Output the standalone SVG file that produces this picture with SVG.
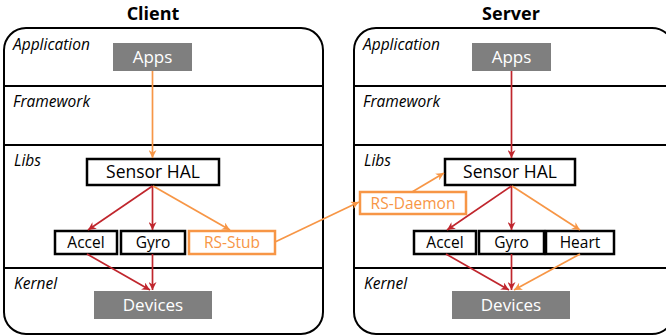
<svg xmlns="http://www.w3.org/2000/svg" width="666" height="335" viewBox="0 0 666 335">
<defs>
<marker id="ar" viewBox="0 0 10 10" refX="10" refY="5" markerWidth="8" markerHeight="8" markerUnits="userSpaceOnUse" orient="auto"><path d="M0,0 L10,5 L0,10 L3,5 Z" fill="#c0262d"/></marker>
<marker id="ao" viewBox="0 0 10 10" refX="10" refY="5" markerWidth="8" markerHeight="8" markerUnits="userSpaceOnUse" orient="auto"><path d="M0,0 L10,5 L0,10 L3,5 Z" fill="#f79646"/></marker>
<style>
.frame{fill:#fff;stroke:#000;stroke-width:2}
.sep{stroke:#000;stroke-width:2}
.layer{font-family:"Open Sans","Liberation Sans",sans-serif;font-style:italic;font-size:15.5px;fill:#000}
.title{font-family:"Open Sans","Liberation Sans",sans-serif;font-weight:bold;font-size:18px;fill:#000;text-anchor:middle}
.gray{fill:#7f7f7f}
.wt{font-family:"Open Sans","Liberation Sans",sans-serif;font-size:17px;fill:#fff;text-anchor:middle}
.box{fill:#fff;stroke:#000;stroke-width:2.5}
.obox{fill:#fff;stroke:#f79646;stroke-width:2.5}
.bt{font-family:"Open Sans","Liberation Sans",sans-serif;font-size:15.5px;fill:#000;text-anchor:middle}
.ot{font-family:"Open Sans","Liberation Sans",sans-serif;font-size:15.5px;fill:#f79646;text-anchor:middle}
.r{stroke:#c0262d;stroke-width:1.7;fill:none;marker-end:url(#ar)}
.o{stroke:#f79646;stroke-width:1.7;fill:none;marker-end:url(#ao)}
</style>
</defs>
<g id="client">
<text class="title" x="153" y="20">Client</text>
<rect class="frame" x="4" y="28" width="319" height="306" rx="22"/>
<line class="sep" x1="4" y1="86" x2="323" y2="86"/>
<line class="sep" x1="4" y1="145" x2="323" y2="145"/>
<line class="sep" x1="4" y1="268" x2="323" y2="268"/>
<text class="layer" x="13" y="50">Application</text>
<text class="layer" x="13" y="107">Framework</text>
<text class="layer" x="14" y="166">Libs</text>
<text class="layer" x="14" y="289">Kernel</text>
</g>
<g id="server">
<text class="title" x="511" y="20">Server</text>
<rect class="frame" x="354" y="28" width="320" height="306" rx="22"/>
<line class="sep" x1="354" y1="86" x2="674" y2="86"/>
<line class="sep" x1="354" y1="145" x2="674" y2="145"/>
<line class="sep" x1="354" y1="268" x2="674" y2="268"/>
<text class="layer" x="363" y="50">Application</text>
<text class="layer" x="363" y="107">Framework</text>
<text class="layer" x="364" y="166">Libs</text>
<text class="layer" x="364" y="289">Kernel</text>
</g>
<g id="c-apps"><rect class="gray" x="113" y="43" width="79" height="28"/><text class="wt" x="152.5" y="63">Apps</text></g>
<g id="c-hal"><rect class="box" x="87" y="159" width="132" height="26"/><text class="bt" x="153" y="178" style="font-size:17.5px">Sensor HAL</text></g>
<g id="c-accel"><rect class="box" x="55" y="231" width="62" height="23"/><text class="bt" x="86" y="248">Accel</text></g>
<g id="c-gyro"><rect class="box" x="121" y="231" width="64" height="23"/><text class="bt" x="153" y="248">Gyro</text></g>
<g id="c-stub"><rect class="obox" x="189" y="231" width="86" height="23"/><text class="ot" x="232" y="248">RS-Stub</text></g>
<g id="c-dev"><rect class="gray" x="94" y="291" width="118" height="28"/><text class="wt" x="153" y="311">Devices</text></g>
<g id="s-apps"><rect class="gray" x="472" y="43" width="79" height="28"/><text class="wt" x="511.5" y="63">Apps</text></g>
<g id="s-hal"><rect class="box" x="445" y="159" width="130" height="26"/><text class="bt" x="510" y="178" style="font-size:17.5px">Sensor HAL</text></g>
<g id="s-daemon"><rect class="obox" x="360" y="192" width="106" height="22"/><text class="ot" x="413" y="209">RS-Daemon</text></g>
<g id="s-accel"><rect class="box" x="414" y="231" width="62" height="23"/><text class="bt" x="445" y="248">Accel</text></g>
<g id="s-gyro"><rect class="box" x="479" y="231" width="65" height="23"/><text class="bt" x="511.5" y="248">Gyro</text></g>
<g id="s-heart"><rect class="box" x="546" y="231" width="68" height="23"/><text class="bt" x="580" y="248">Heart</text></g>
<g id="s-dev"><rect class="gray" x="452" y="291" width="118" height="28"/><text class="wt" x="511" y="311">Devices</text></g>
<g id="connectors">
<line class="o" x1="152.5" y1="71" x2="152.5" y2="158"/>
<line class="r" x1="152.5" y1="186" x2="88" y2="230"/>
<line class="r" x1="152.5" y1="186" x2="152.5" y2="230"/>
<line class="o" x1="153" y1="186" x2="230" y2="230"/>
<line class="r" x1="87" y1="254" x2="150" y2="290"/>
<line class="r" x1="152.5" y1="254" x2="152.5" y2="290"/>
<line class="o" x1="275" y1="242" x2="359" y2="202"/>
<line class="o" x1="412" y1="192" x2="444" y2="173"/>
<line class="r" x1="511.5" y1="71" x2="511.5" y2="158"/>
<line class="r" x1="511.5" y1="186" x2="447" y2="230"/>
<line class="r" x1="511.5" y1="186" x2="511.5" y2="230"/>
<line class="o" x1="512" y1="186" x2="580" y2="230"/>
<line class="r" x1="446" y1="254" x2="509" y2="290"/>
<line class="r" x1="511.5" y1="254" x2="511.5" y2="290"/>
<line class="o" x1="580" y1="254" x2="514" y2="290"/>
</g>
</svg>
